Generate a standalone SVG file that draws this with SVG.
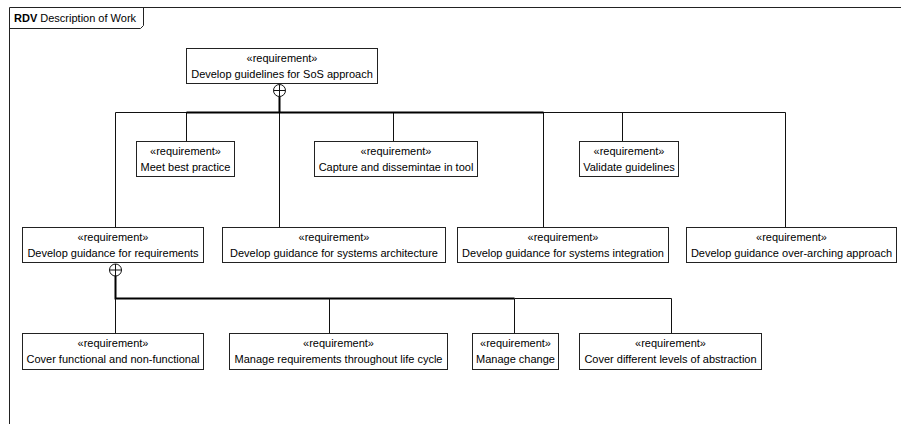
<svg xmlns="http://www.w3.org/2000/svg" width="901" height="424" viewBox="0 0 901 424">
<style>
.box{fill:#fff;stroke:#222;stroke-width:1}
.t{font-family:"Liberation Sans",Arial,sans-serif;font-size:11px;fill:#000;text-anchor:middle}
.c{fill:none;stroke:#111;stroke-width:1}
.stem{fill:none;stroke:#000;stroke-width:2}
.frame{fill:none;stroke:#222;stroke-width:1}
.hd{font-family:"Liberation Sans",Arial,sans-serif;font-size:11px;fill:#000}
</style>
<rect width="901" height="424" fill="#fff"/>
<g id="frame">
<path class="frame" d="M9.5,424 V7.5 H901"/>
<path class="frame" d="M9.5,28.5 H140.5 L143.5,25.5 V7.5"/>
<text class="hd" x="14" y="22"><tspan font-weight="bold">RDV</tspan> Description of Work</text>
</g>
<g id="connectors">
<circle class="c" cx="279.5" cy="90.5" r="6"/>
<path class="c" d="M273.5,90.5 H285.5 M279.5,84.5 V96.5"/>
<path class="stem" d="M279.5,96.5 V112.5"/>
<path class="c" d="M115.5,227 V112.5 H785.5 V227"/>
<path class="c" d="M186.5,112.5 V141"/>
<path class="c" d="M279.5,112.5 V227"/>
<path class="c" d="M393.5,112.5 V141"/>
<path class="c" d="M543.5,112.5 V227"/>
<path class="c" d="M622.5,112.5 V141"/>
<path class="stem" d="M186.5,112.5 H543.5"/>
<circle class="c" cx="115.5" cy="270" r="6"/>
<path class="c" d="M109.5,270 H121.5 M115.5,264 V276"/>
<path class="stem" d="M115.5,276 V298.5 H514.5"/>
<path class="c" d="M115.5,298.5 V333 M329.5,298.5 V333 M514.5,298.5 V333 M514.5,298.5 H671.5 V333"/>
</g>
<g id="n_top">
<rect class="box" x="186.5" y="48.5" width="191" height="35"/>
<text class="t" x="282" y="62">«requirement»</text>
<text class="t" x="282" y="78">Develop guidelines for SoS approach</text>
</g>
<g id="n_best">
<rect class="box" x="136.5" y="141.5" width="98" height="35"/>
<text class="t" x="185.5" y="155">«requirement»</text>
<text class="t" x="185.5" y="171">Meet best practice</text>
</g>
<g id="n_capture">
<rect class="box" x="314.5" y="141.5" width="163" height="35"/>
<text class="t" x="396" y="155">«requirement»</text>
<text class="t" x="396" y="171">Capture and dissemintae in tool</text>
</g>
<g id="n_validate">
<rect class="box" x="579.5" y="141.5" width="99" height="35"/>
<text class="t" x="629" y="155">«requirement»</text>
<text class="t" x="629" y="171">Validate guidelines</text>
</g>
<g id="n_req">
<rect class="box" x="22.5" y="227.5" width="181" height="35"/>
<text class="t" x="113" y="241">«requirement»</text>
<text class="t" x="113" y="257">Develop guidance for requirements</text>
</g>
<g id="n_arch">
<rect class="box" x="222.5" y="227.5" width="223" height="35"/>
<text class="t" x="334" y="241">«requirement»</text>
<text class="t" x="334" y="257">Develop guidance for systems architecture</text>
</g>
<g id="n_integ">
<rect class="box" x="457.5" y="227.5" width="211" height="35"/>
<text class="t" x="563" y="241">«requirement»</text>
<text class="t" x="563" y="257">Develop guidance for systems integration</text>
</g>
<g id="n_over">
<rect class="box" x="686.5" y="227.5" width="210" height="35"/>
<text class="t" x="791.5" y="241">«requirement»</text>
<text class="t" x="791.5" y="257">Develop guidance over-arching approach</text>
</g>
<g id="n_func">
<rect class="box" x="22.5" y="333.5" width="181" height="36"/>
<text class="t" x="113" y="347">«requirement»</text>
<text class="t" x="113" y="363">Cover functional and non-functional</text>
</g>
<g id="n_life">
<rect class="box" x="229.5" y="333.5" width="218" height="36"/>
<text class="t" x="338.5" y="347">«requirement»</text>
<text class="t" x="338.5" y="363">Manage requirements throughout life cycle</text>
</g>
<g id="n_change">
<rect class="box" x="472.5" y="333.5" width="86" height="36"/>
<text class="t" x="515.5" y="347">«requirement»</text>
<text class="t" x="515.5" y="363">Manage change</text>
</g>
<g id="n_abs">
<rect class="box" x="579.5" y="333.5" width="182" height="36"/>
<text class="t" x="670.5" y="347">«requirement»</text>
<text class="t" x="670.5" y="363">Cover different levels of abstraction</text>
</g>
</svg>
